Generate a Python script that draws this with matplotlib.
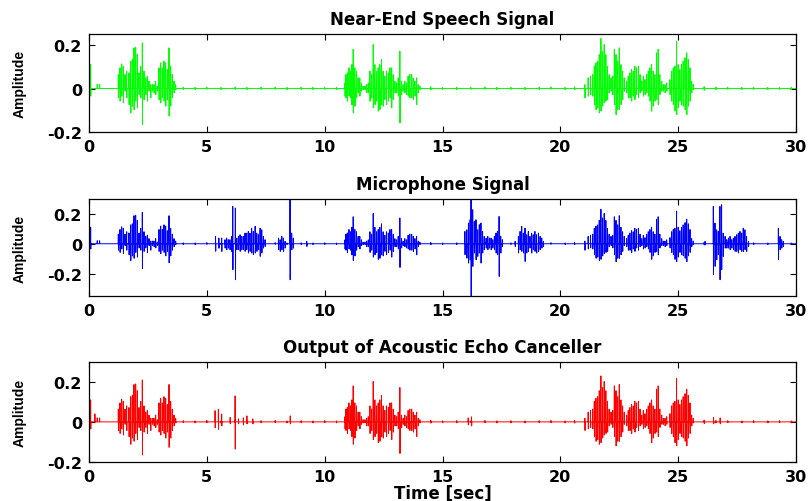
import numpy as np
import matplotlib
matplotlib.use("Agg")
import matplotlib.pyplot as plt

plt.rcParams['font.family'] = ['DejaVu Sans']
plt.rcParams['font.weight'] = 'bold'

# near-end speech: peak time [s], positive peak, negative peak
near_t = [0.07, 0.35, 0.45,
          1.245, 1.315, 1.386, 1.457, 1.528, 1.598, 1.697, 1.768, 1.839, 1.909, 1.980, 2.051, 2.122, 2.192,
          2.263, 2.334, 2.405, 2.475, 2.546, 2.617, 2.687, 2.758, 2.829, 2.900, 2.970, 3.041, 3.112, 3.182,
          3.253, 3.324, 3.395, 3.465, 3.536, 3.607, 3.678,
          10.86, 10.90, 10.96, 11.03, 11.10, 11.15, 11.21, 11.28, 11.35, 11.42, 11.49, 11.56, 11.63, 11.71,
          11.78, 11.85, 11.92, 11.99, 12.06, 12.13, 12.20, 12.27, 12.34, 12.41, 12.48, 12.55, 12.62, 12.70,
          12.77, 12.84, 12.91, 12.98, 13.05, 13.12, 13.19, 13.26, 13.33, 13.40, 13.47, 13.54, 13.61, 13.69,
          13.76, 13.83, 13.90, 13.97, 14.04,
          21.04, 21.18, 21.28, 21.37, 21.44, 21.51, 21.58, 21.65, 21.72, 21.79, 21.86, 21.93, 22.00, 22.07,
          22.15, 22.22, 22.29, 22.36, 22.43, 22.50, 22.57, 22.64, 22.71, 22.81, 22.88, 22.95, 23.02, 23.09,
          23.16, 23.23, 23.31, 23.38, 23.45, 23.52, 23.59, 23.66, 23.73, 23.80, 23.87, 23.94, 24.01, 24.08,
          24.15, 24.22, 24.30, 24.37, 24.44, 24.51, 24.65, 24.72, 24.79, 24.86, 24.93, 25.00, 25.07, 25.14,
          25.21, 25.29, 25.36, 25.43, 25.50, 25.57, 25.64]
near_up = [0.11, 0.02, 0.02,
           0.064, 0.095, 0.113, 0.103, 0.064, 0.080, 0.072, 0.126, 0.133, 0.187, 0.190, 0.156, 0.072, 0.103,
           0.210, 0.080, 0.049, 0.057, 0.034, 0.018, 0.018, 0.018, 0.034, 0.011, 0.095, 0.118, 0.095, 0.126,
           0.118, 0.087, 0.187, 0.103, 0.064, 0.034, 0.018,
           0.026, 0.064, 0.072, 0.095, 0.080, 0.110, 0.180, 0.095, 0.080, 0.049, 0.049, 0.026, 0.011, 0.011,
           0.018, 0.026, 0.080, 0.064, 0.202, 0.110, 0.080, 0.095, 0.110, 0.133, 0.080, 0.057, 0.080, 0.072,
           0.095, 0.095, 0.064, 0.034, 0.026, 0.049, 0.172, 0.034, 0.018, 0.034, 0.026, 0.057, 0.064, 0.064,
           0.049, 0.034, 0.049, 0.018, 0.011,
           0.018, 0.049, 0.057, 0.064, 0.103, 0.118, 0.126, 0.156, 0.230, 0.172, 0.202, 0.156, 0.103, 0.064,
           0.049, 0.057, 0.180, 0.156, 0.126, 0.187, 0.110, 0.080, 0.049, 0.034, 0.057, 0.072, 0.087, 0.080,
           0.103, 0.095, 0.103, 0.064, 0.034, 0.057, 0.041, 0.064, 0.080, 0.095, 0.110, 0.080, 0.064, 0.164,
           0.180, 0.064, 0.034, 0.018, 0.018, 0.026, 0.041, 0.080, 0.095, 0.103, 0.218, 0.110, 0.087, 0.110,
           0.126, 0.141, 0.164, 0.133, 0.095, 0.034, 0.018]
near_dn = [-0.035, 0.0, 0.005,
           -0.043, -0.058, -0.035, -0.066, -0.012, -0.043, -0.074, -0.112, -0.081, -0.097, -0.058, -0.089, -0.028, -0.043,
           -0.166, -0.051, -0.028, -0.058, -0.012, -0.043, -0.012, -0.020, -0.028, -0.012, -0.051, -0.066, -0.043, -0.058,
           -0.081, -0.051, -0.127, -0.081, -0.043, -0.020, -0.005,
           -0.035, -0.043, -0.058, -0.035, -0.043, -0.074, -0.112, -0.081, -0.043, -0.020, -0.035, -0.012, -0.005, -0.005,
           -0.020, -0.020, -0.058, -0.043, -0.089, -0.074, -0.058, -0.104, -0.097, -0.074, -0.081, -0.051, -0.074, -0.058,
           -0.043, -0.089, -0.051, -0.020, -0.020, -0.035, -0.158, -0.028, -0.012, -0.020, -0.028, -0.035, -0.043, -0.043,
           -0.051, -0.035, -0.074, -0.020, -0.005,
           -0.043, -0.035, -0.028, -0.035, -0.074, -0.097, -0.089, -0.112, -0.104, -0.081, -0.066, -0.058, -0.051, -0.020,
           -0.012, -0.028, -0.074, -0.120, -0.097, -0.097, -0.074, -0.051, -0.012, -0.020, -0.043, -0.043, -0.058, -0.035,
           -0.051, -0.028, -0.043, -0.020, -0.012, -0.035, -0.028, -0.020, -0.035, -0.058, -0.104, -0.081, -0.058, -0.051,
           -0.074, -0.028, -0.012, -0.012, -0.020, -0.012, -0.028, -0.058, -0.074, -0.104, -0.120, -0.089, -0.058, -0.074,
           -0.081, -0.097, -0.120, -0.081, -0.058, -0.020, -0.005]

# small background noise of the near-end recording
floor_t = [4.0, 4.5, 5.0, 5.6, 6.2, 6.7, 7.3, 7.9, 8.4, 9.0, 9.5, 10.0, 10.5, 14.5, 15.0, 15.6, 16.2, 16.8,
           17.3, 17.9, 18.5, 19.1, 19.6, 20.2, 20.6, 26.1, 26.6, 27.1, 27.7, 28.2, 28.8, 29.3, 29.8]
floor_up = [0.006, 0.005, 0.007, 0.005, 0.006, 0.005, 0.006, 0.007, 0.005, 0.006, 0.005, 0.006, 0.005, 0.008,
            0.005, 0.006, 0.005, 0.007, 0.005, 0.006, 0.005, 0.006, 0.007, 0.005, 0.008, 0.009, 0.007, 0.006,
            0.005, 0.006, 0.005, 0.006, 0.005]
floor_dn = [-0.004, -0.005, -0.003, -0.005, -0.004, -0.005, -0.004, -0.003, -0.005, -0.004, -0.005, -0.004, -0.005,
            -0.006, -0.004, -0.005, -0.004, -0.003, -0.005, -0.004, -0.005, -0.004, -0.003, -0.005, -0.006, -0.008,
            -0.005, -0.004, -0.005, -0.004, -0.005, -0.004, -0.005]

# echo picked up by the microphone
echo_t = [5.37, 5.51, 5.63, 5.77, 5.84, 5.91, 5.98, 6.05, 6.10, 6.21, 6.27, 6.34, 6.41, 6.48, 6.55, 6.62,
          6.69, 6.76, 6.83, 6.90, 6.97, 7.05, 7.12, 7.19, 7.26, 7.33, 7.40, 7.47,
          8.04, 8.11, 8.18, 8.25, 8.32, 8.53, 8.60, 8.67, 9.24,
          15.95, 16.03, 16.10, 16.17, 16.21, 16.28, 16.35, 16.42, 16.49, 16.56, 16.63, 16.70, 16.77, 16.85,
          16.92, 16.99, 17.06, 17.13, 17.20, 17.27, 17.33, 17.40, 17.47, 17.54,
          18.08, 18.22, 18.29, 18.36, 18.43, 18.50, 18.57, 18.64, 18.71, 18.78, 18.85, 18.92, 18.99, 19.07,
          19.14, 19.21, 19.28,
          26.14, 26.49, 26.56, 26.63, 26.70, 26.77, 26.84, 26.91, 26.99, 27.06, 27.13, 27.20, 27.27, 27.34,
          27.41, 27.48, 27.55, 27.62, 27.69, 27.76, 27.83, 27.90, 27.98,
          29.25, 29.32, 29.39, 29.46]
echo_up = [0.049, 0.038, 0.038, 0.027, 0.038, 0.027, 0.027, 0.049, 0.249, 0.238, 0.038, 0.049, 0.060, 0.049, 0.049, 0.071,
           0.071, 0.082, 0.071, 0.104, 0.082, 0.116, 0.071, 0.060, 0.104, 0.093, 0.049, 0.027,
           0.038, 0.027, 0.049, 0.038, 0.016, 0.30, 0.071, 0.038, 0.016,
           0.082, 0.093, 0.138, 0.160, 0.30, 0.227, 0.149, 0.160, 0.093, 0.127, 0.138, 0.082, 0.049, 0.038,
           0.049, 0.038, 0.038, 0.027, 0.049, 0.071, 0.082, 0.182, 0.049, 0.027,
           0.016, 0.049, 0.082, 0.116, 0.071, 0.104, 0.060, 0.082, 0.049, 0.071, 0.060, 0.082, 0.060, 0.071,
           0.049, 0.038, 0.016,
           0.016, 0.249, 0.138, 0.093, 0.082, 0.249, 0.260, 0.071, 0.049, 0.027, 0.038, 0.049, 0.027, 0.038,
           0.049, 0.060, 0.071, 0.082, 0.071, 0.104, 0.093, 0.049, 0.016,
           0.104, 0.049, 0.027, 0.016]
echo_dn = [-0.050, -0.030, -0.051, -0.029, -0.040, -0.029, -0.040, -0.051, -0.173, -0.240, -0.040, -0.040, -0.051, -0.040, -0.040, -0.051,
           -0.040, -0.062, -0.051, -0.062, -0.073, -0.062, -0.051, -0.040, -0.084, -0.062, -0.029, -0.018,
           -0.040, -0.051, -0.040, -0.051, -0.029, -0.240, -0.040, -0.029, -0.018,
           -0.073, -0.096, -0.129, -0.107, -0.35, -0.151, -0.062, -0.107, -0.084, -0.062, -0.129, -0.062, -0.040, -0.029,
           -0.040, -0.029, -0.040, -0.029, -0.040, -0.062, -0.073, -0.218, -0.062, -0.018,
           -0.018, -0.062, -0.040, -0.051, -0.062, -0.118, -0.062, -0.051, -0.029, -0.062, -0.040, -0.051, -0.062, -0.051,
           -0.040, -0.029, -0.018,
           -0.007, -0.207, -0.151, -0.107, -0.073, -0.240, -0.173, -0.084, -0.029, -0.029, -0.029, -0.040, -0.029, -0.040,
           -0.051, -0.051, -0.062, -0.040, -0.051, -0.051, -0.040, -0.051, -0.018,
           -0.107, -0.040, -0.029, -0.018]

# residual echo left after cancellation
resid_t = [0.25, 5.35, 5.49, 5.63, 5.99, 6.20, 6.34, 6.55, 6.70, 6.95, 8.54, 16.09, 16.23, 26.50, 26.78]
resid_up = [0.04, 0.056, 0.064, 0.039, 0.022, 0.13, 0.015, 0.02, 0.03, 0.015, 0.03, 0.02, 0.025, 0.022, 0.02]
resid_dn = [0.01, -0.03, -0.037, -0.02, -0.01, -0.136, -0.01, -0.015, -0.01, -0.01, -0.01, -0.015, -0.02, -0.01, -0.01]


def wave(t, up, dn):
    # each peak is drawn as a short up/down stroke from the zero line
    t = np.asarray(t); up = np.asarray(up); dn = np.asarray(dn)
    order = np.argsort(t)
    t, up, dn = t[order], up[order], dn[order]
    z = np.zeros_like(t)
    xs = np.column_stack([t - 0.006, t, t + 0.006, t + 0.012]).ravel()
    ys = np.column_stack([z, up, dn, z]).ravel()
    xs = np.concatenate([[0], xs, [30]])
    ys = np.concatenate([[0], ys, [0]])
    return xs, ys


near = (near_t + floor_t, near_up + floor_up, near_dn + floor_dn)
panels = [
    ("Near-End Speech Signal", wave(*near), '#00ff00', (-0.2, 0.25), [0.735, 0.195]),
    ("Microphone Signal", wave(near[0] + echo_t, near[1] + echo_up, near[2] + echo_dn), '#0000ff', (-0.35, 0.3), [0.408, 0.194]),
    ("Output of Acoustic Echo Canceller", wave(near[0] + resid_t, near[1] + resid_up, near[2] + resid_dn), '#ff0000', (-0.2, 0.3), [0.078, 0.199]),
]

fig = plt.figure(figsize=(8.09, 5.02), dpi=100)
for i, (title, (x, y), col, ylim, (b, h)) in enumerate(panels):
    ax = fig.add_axes([0.110, b, 0.874, h])
    ax.plot(x, y, color=col, lw=0.7)
    ax.set_xlim(0, 30)
    ax.set_ylim(*ylim)
    ax.set_xticks([0, 5, 10, 15, 20, 25, 30])
    ax.set_yticks([-0.2, 0, 0.2])
    ax.set_yticklabels(['-0.2', '0', '0.2'])
    ax.tick_params(direction='in', top=True, right=True, labelsize=11.5, length=4, width=0.8, pad=5)
    for s in ax.spines.values():
        s.set_linewidth(0.9)
    ax.set_title(title, fontsize=12, fontweight='bold', pad=7)
    ax.set_ylabel('Amplitude', fontsize=10, fontweight='bold', family=['Liberation Sans'])
    ax.yaxis.set_label_coords(-0.088, 0.5)
    if i == 2:
        ax.set_xlabel('Time [sec]', fontsize=12, fontweight='bold')
        ax.xaxis.set_label_coords(0.5, -0.22)

fig.savefig('out.png', dpi=100)
